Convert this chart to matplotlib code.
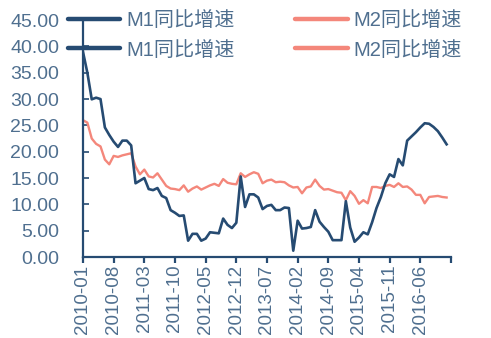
import matplotlib
matplotlib.use("Agg")
import matplotlib.pyplot as plt
from matplotlib.lines import Line2D

plt.rcParams['font.family'] = ['Liberation Sans', 'Noto Sans CJK SC', 'DejaVu Sans']

months = [f"{y}-{m:02d}" for y in range(2010, 2017) for m in range(1, 13)]

m1 = [38.96, 34.99, 29.94, 30.25, 29.99, 24.6, 23.17, 21.9, 20.9, 22.1, 22.1, 21.19,
      14.0, 14.5, 15.0, 12.9, 12.7, 13.1, 11.6, 11.2, 8.9, 8.4, 7.8, 7.9,
      3.1, 4.4, 4.4, 3.1, 3.5, 4.7, 4.6, 4.5, 7.3, 6.1, 5.5, 6.5,
      15.3, 9.5, 11.9, 11.9, 11.3, 9.1, 9.7, 9.9, 8.9, 8.9, 9.4, 9.3,
      1.2, 6.9, 5.4, 5.5, 5.7, 8.9, 6.7, 5.7, 4.8, 3.2, 3.2, 3.2,
      10.6, 5.6, 2.9, 3.7, 4.7, 4.3, 6.6, 9.3, 11.4, 14.0, 15.7, 15.2,
      18.6, 17.4, 22.1, 22.9, 23.7, 24.6, 25.4, 25.3, 24.7, 23.9, 22.7, 21.4]

m2 = [25.98, 25.52, 22.5, 21.48, 21.0, 18.5, 17.6, 19.2, 19.0, 19.3, 19.5, 19.7,
      17.2, 15.7, 16.6, 15.3, 15.1, 15.9, 14.7, 13.5, 13.0, 12.9, 12.7, 13.6,
      12.4, 13.0, 13.4, 12.8, 13.2, 13.6, 13.9, 13.5, 14.8, 14.1, 13.9, 13.8,
      15.9, 15.2, 15.7, 16.1, 15.8, 14.0, 14.5, 14.7, 14.2, 14.3, 14.2, 13.6,
      13.2, 13.3, 12.1, 13.2, 13.4, 14.7, 13.5, 12.8, 12.9, 12.6, 12.3, 12.2,
      10.8, 12.5, 11.6, 10.1, 10.8, 10.2, 13.3, 13.3, 13.1, 13.5, 13.7, 13.3,
      14.0, 13.3, 13.4, 12.8, 11.8, 11.8, 10.2, 11.4, 11.5, 11.6, 11.4, 11.3]

series_names = ["M1同比增速", "M2同比增速"]
yticks = [0, 5, 10, 15, 20, 25, 30, 35, 40, 45]

c1 = "#264B72"
c2 = "#F4877B"
txt = "#4F6F8F"

fig = plt.figure(figsize=(4.91, 3.38), dpi=100)
ax = fig.add_axes([0.169, 0.2396, 0.7495, 0.7012])

x = list(range(len(months)))
ax.plot(x, m2, color=c2, lw=1.7, solid_joinstyle='round')
ax.plot(x, m1, color=c1, lw=1.9, solid_joinstyle='round')

ax.set_xlim(0, 84)
ax.set_ylim(0, 45)
ax.set_yticks(yticks)
ax.set_yticklabels([f"{v:.2f}" for v in yticks])
tick_idx = list(range(0, 84, 7))
ax.set_xticks(tick_idx + [84])
ax.set_xticklabels([months[i] for i in tick_idx] + [""], rotation=90)

for s in ['top', 'right']:
    ax.spines[s].set_visible(False)
for s in ['left', 'bottom']:
    ax.spines[s].set_color(c1)
    ax.spines[s].set_linewidth(1.6)
ax.tick_params(axis='y', direction='in', length=4, width=1.2, color=c1,
               labelcolor=txt, labelsize=14, pad=17)
ax.tick_params(axis='x', direction='out', length=4, width=1.6, color=c1,
               labelcolor=txt, labelsize=13.5, pad=1.5)

handles = [Line2D([], [], color=c1, lw=3.2, solid_capstyle='round'),
           Line2D([], [], color=c2, lw=3.2, solid_capstyle='round')]
for yy in (0.939, 0.852):
    leg = fig.legend(handles, series_names, loc='center left', bbox_to_anchor=(0.1385, yy),
                     ncol=2, frameon=False, fontsize=14.5, handlelength=2.6,
                     handletextpad=0.3, columnspacing=3.0, borderaxespad=0, borderpad=0)
    for t in leg.get_texts():
        t.set_color(txt)

fig.savefig("out.png", dpi=100)
